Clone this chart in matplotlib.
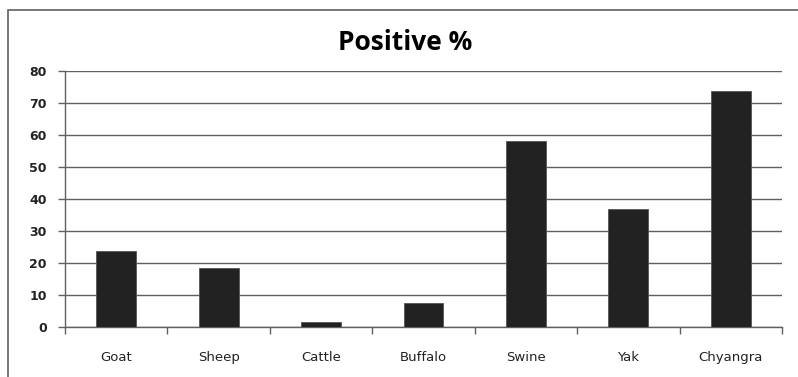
import matplotlib
matplotlib.use("Agg")
import matplotlib.pyplot as plt
from matplotlib.patches import Rectangle
import numpy as np

categories = ["Goat", "Sheep", "Cattle", "Buffalo", "Swine", "Yak", "Chyangra"]
positive = [23.6, 18.3, 1.7, 7.4, 58.0, 36.8, 73.9]
yticks = [0, 10, 20, 30, 40, 50, 60, 70, 80]

W, H = 798, 377
fig = plt.figure(figsize=(W / 100, H / 100), dpi=100)

# outer chart frame (right and bottom edges run off the picture)
fig.patches.append(Rectangle((8 / W, -0.1), 1.2, 1.1 - 10 / H, transform=fig.transFigure,
                             fill=False, edgecolor="#606060", linewidth=1.2))

ax = fig.add_axes([65 / W, (H - 327) / H, 717 / W, (327 - 71) / H])
x = np.arange(len(categories))
ax.bar(x, positive, width=0.39, color="#222222", edgecolor="#555555", linewidth=0.6, zorder=3)

ax.set_xlim(-0.5, len(categories) - 0.5)
ax.set_ylim(0, 80)
ax.set_yticks(yticks)
ax.set_yticklabels([str(v) for v in yticks], fontsize=9, fontweight="bold", color="#222222")
ax.yaxis.grid(True, color="#606060", linewidth=1.0, zorder=0)
ax.set_axisbelow(True)

# category labels centred, ticks between categories
ax.set_xticks(x)
ax.set_xticklabels(categories, fontsize=9.5, color="#222222")
ax.tick_params(axis="x", length=0, pad=17)
ax.set_xticks(np.arange(len(categories) + 1) - 0.5, minor=True)
ax.tick_params(axis="x", which="minor", length=5, color="#606060", width=1.0, direction="out")
ax.tick_params(axis="y", length=5, color="#606060", width=1.0, pad=8)

for s in ["top", "right"]:
    ax.spines[s].set_visible(False)
for s in ["left", "bottom"]:
    ax.spines[s].set_color("#606060")
    ax.spines[s].set_linewidth(1.0)

fig.text(405 / W, 1 - 43 / H, "Positive %", ha="center", va="center",
         fontsize=19, fontweight="bold", family=["Open Sans", "DejaVu Sans"])

fig.savefig("out.png", dpi=100)
